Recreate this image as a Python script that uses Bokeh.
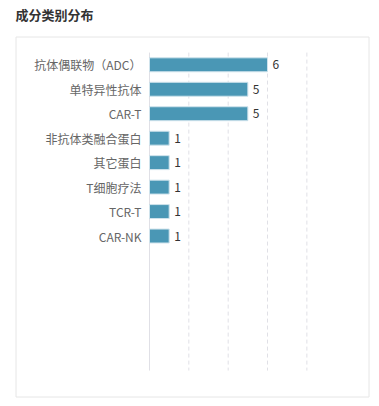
from bokeh.plotting import figure
from bokeh.models import Range1d, ColumnDataSource
from bokeh.core.properties import value
from bokeh.embed import file_html
from bokeh.resources import INLINE

title_text = "成分类别分布"
categories = ["抗体偶联物（ADC）", "单特异性抗体", "CAR-T", "非抗体类融合蛋白", "其它蛋白", "T细胞疗法", "TCR-T", "CAR-NK"]
counts = [6, 5, 5, 1, 1, 1, 1, 1]
x_ticks = [2, 4, 6, 8]
n_slots = 13

FONT = "Noto Sans CJK SC"
W, H = 379, 406
PX_X = 19.67      # pixels per unit on x
PX_Y = 24.46      # pixels per category slot
X0_PX = 149       # pixel position of x = 0
Y0_PX = 64.3      # pixel position of first category centre


def dx(px):
    return (px - X0_PX) / PX_X


def dy(px):
    return (px - Y0_PX) / PX_Y


pos = list(range(len(categories)))
src = ColumnDataSource(dict(y=pos, v=counts, lab=[str(c) for c in counts], cat=categories,
                            zero=[0] * len(pos)))

p = figure(width=W, height=H, output_backend="svg", toolbar_location=None,
           x_range=Range1d(dx(0), dx(W)), y_range=Range1d(dy(H), dy(0)),
           min_border=0)
p.outline_line_color = None
p.background_fill_color = "white"
p.border_fill_color = "white"
p.xaxis.visible = False
p.yaxis.visible = False
p.grid.visible = False

# panel box
p.quad(left=[dx(15.5)], right=[dx(368.5)], top=[dy(36.5)], bottom=[dy(396.5)],
       fill_color=None, line_color="#e6e6e6", line_width=1)

# gridlines
p.segment(x0=x_ticks, x1=x_ticks, y0=[-0.5] * len(x_ticks), y1=[n_slots - 0.5] * len(x_ticks),
          line_color="#e0e0e6", line_dash="4 3", line_width=1)
# axis line
p.segment(x0=[0], x1=[0], y0=[-0.5], y1=[n_slots - 0.5], line_color="#e0e0e6", line_width=1)

p.hbar(y="y", right="v", left=0, height=0.57, source=src,
       fill_color="#4a97b5", line_color="#cfe3ec", line_width=1)
p.text(x="v", y="y", text="lab", source=src, x_offset=5, text_baseline="middle",
       text_align="left", text_font=value(FONT), text_font_size="12px", text_color="#333333")
p.text(x="zero", y="y", text="cat", source=src, x_offset=-8, text_baseline="middle",
       text_align="right", text_font=value(FONT), text_font_size="12px", text_color="#666666")

p.text(x=[dx(15)], y=[dy(14)], text=[title_text], text_baseline="middle", text_align="left",
       text_font=value(FONT), text_font_size="13px", text_font_style="bold", text_color="#333333")

open("out.html", "w").write(file_html(p, INLINE))
